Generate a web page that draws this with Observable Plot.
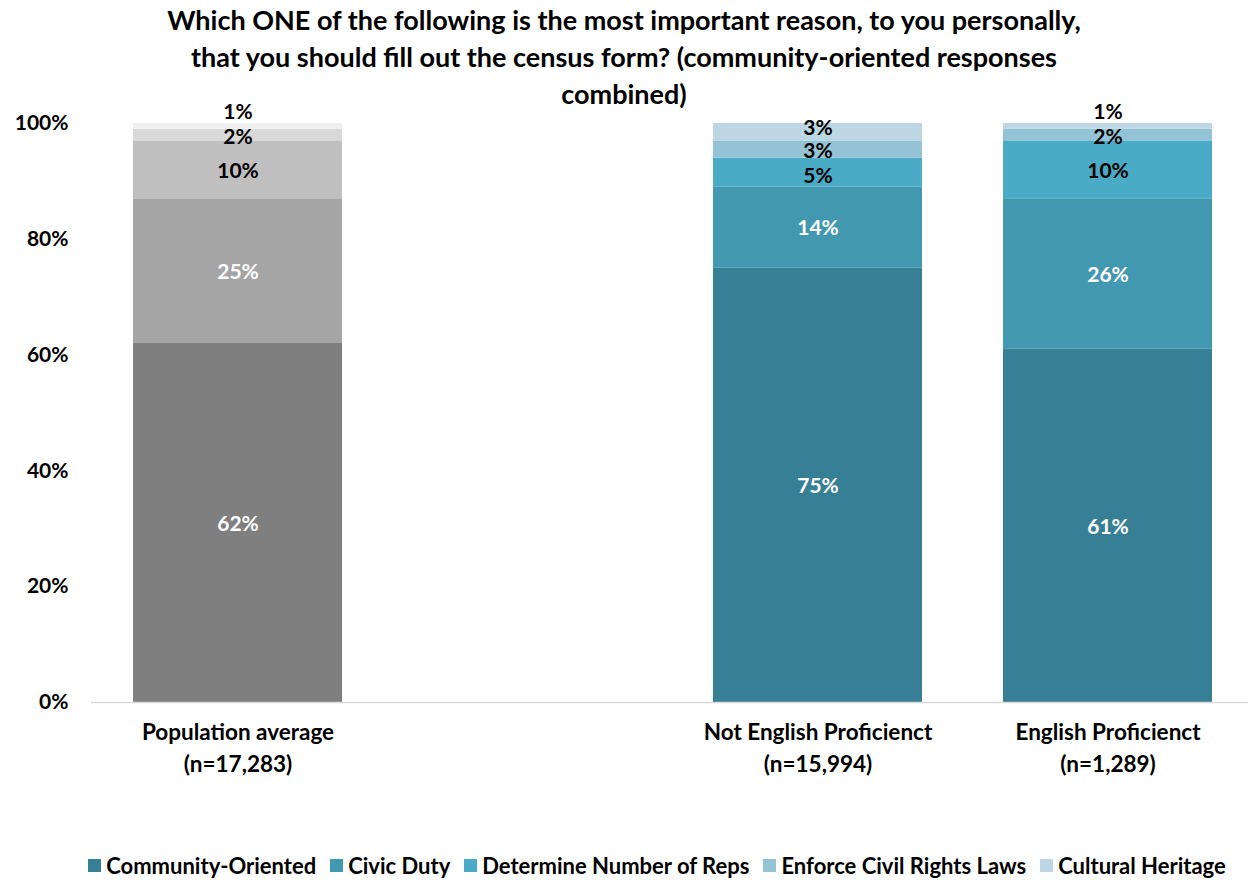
<!DOCTYPE html>
<html>
<head>
<meta charset="utf-8">
<script src="https://cdn.jsdelivr.net/npm/d3@7"></script>
<script src="https://cdn.jsdelivr.net/npm/@observablehq/plot@0.6"></script>
<style>
  html, body { margin: 0; padding: 0; background: #fff; }
  #wrap { position: relative; width: 1248px; height: 880px; font-family: Lato, "Open Sans", sans-serif; font-weight: 700; }
  #title { position: absolute; left: 0; top: 1px; width: 1248px; text-align: center; font-size: 27px; line-height: 37px; color: #000; z-index: 2; }
  #chart { position: absolute; left: 0; top: 0; }
  #legend { position: absolute; left: 0; top: 852px; width: 1248px; display: flex; justify-content: center; align-items: center; font-size: 22px; color: #000; padding-left: 80px; box-sizing: border-box; }
  #legend .item { display: flex; align-items: center; margin-right: 14px; white-space: nowrap; }
  #legend .sw { width: 13px; height: 13px; margin-right: 5px; display: inline-block; }
</style>
</head>
<body>
<div id="wrap">
  <div id="title">Which ONE of the following is the most important reason, to you personally,<br>that you should fill out the census form? (community-oriented responses<br>combined)</div>
  <div id="chart"></div>
  <div id="legend"></div>
</div>
<script>
const groups = ["Population average\n(n=17,283)", "", "Not English Proficienct\n(n=15,994)", "English Proficienct\n(n=1,289)"];
const series = ["Community-Oriented", "Civic Duty", "Determine Number of Reps", "Enforce Civil Rights Laws", "Cultural Heritage"];
const popValues = [62, 25, 10, 2, 1];
const nepValues = [75, 14, 5, 3, 3];
const epValues = [61, 26, 10, 2, 1];
const grayColors = ["#7f7f7f", "#a5a5a5", "#bfbfbf", "#d9d9d9", "#f0f0f0"];
const tealColors = ["#377f95", "#4398b1", "#4aabc6", "#93c3d5", "#bcd7e3"];
const labelColors = ["#ffffff", "#ffffff", "#000000", "#000000", "#000000"];
const yTicks = [0, 20, 40, 60, 80, 100];

const rows = [];
[[groups[0], popValues, grayColors], [groups[2], nepValues, tealColors], [groups[3], epValues, tealColors]].forEach(([g, vals, cols]) => {
  vals.forEach((v, i) => rows.push({group: g, series: series[i], idx: i, value: v, color: cols[i], label: labelColors[i]}));
});

const fontFamily = "Lato, 'Open Sans', sans-serif";
const fmt = d => d.value + "%";
// label groups: regular, tiny (shifted above bar), small top/neighbour labels nudged apart
const isTiny = d => d.value < 1.5;
const isSmallTop = d => !isTiny(d) && d.value < 4 && d.idx === series.length - 1;
const isSmallBelowTop = d => !isTiny(d) && d.value < 4 && d.idx === series.length - 2;
const isSmallThird = d => !isTiny(d) && d.value < 6 && d.idx === series.length - 3;
const isRegular = d => !isTiny(d) && !isSmallTop(d) && !isSmallBelowTop(d) && !isSmallThird(d);
const textOpts = (pred) => ({x: "group", y: "value", text: d => pred(d) ? fmt(d) : "", fill: "label", fontSize: 21, fontWeight: 700});

const chart = Plot.plot({
  width: 1248,
  height: 800,
  marginTop: 123,
  marginBottom: 98,
  marginLeft: 91,
  marginRight: 0,
  style: {fontFamily, fontWeight: 700, fontSize: "21px", color: "#000", background: "transparent"},
  x: {domain: groups, range: [91, 1253], paddingInner: 0.28, paddingOuter: 0.14, label: null},
  y: {domain: [0, 100], label: null},
  color: {type: "identity"},
  marks: [
    Plot.barY(rows, Plot.stackY({x: "group", y: "value", fill: "color"})),
    Plot.ruleY([0], {stroke: "#d9d9d9", strokeWidth: 1.5}),
    Plot.text(rows, Plot.stackY({...textOpts(isRegular), dy: 1})),
    Plot.text(rows, Plot.stackY({...textOpts(isTiny), dy: -14})),
    Plot.text(rows, Plot.stackY({...textOpts(isSmallTop), dy: -4})),
    Plot.text(rows, Plot.stackY({...textOpts(isSmallBelowTop), dy: 2})),
    Plot.text(rows, Plot.stackY({...textOpts(isSmallThird), dy: 4})),
    Plot.axisY({ticks: yTicks, tickFormat: d => d + "%", tickSize: 0, tickPadding: 23, fontSize: 21, fontWeight: 700, label: null}),
    Plot.axisX({tickSize: 0, tickPadding: 15, fontSize: 22.5, fontWeight: 700, lineHeight: 1.42, label: null})
  ]
});
document.getElementById("chart").appendChild(chart);

const legend = document.getElementById("legend");
series.forEach((s, i) => {
  const item = document.createElement("div");
  item.className = "item";
  const sw = document.createElement("span");
  sw.className = "sw";
  sw.style.background = tealColors[i];
  item.appendChild(sw);
  item.appendChild(document.createTextNode(s));
  legend.appendChild(item);
});
</script>
</body>
</html>
